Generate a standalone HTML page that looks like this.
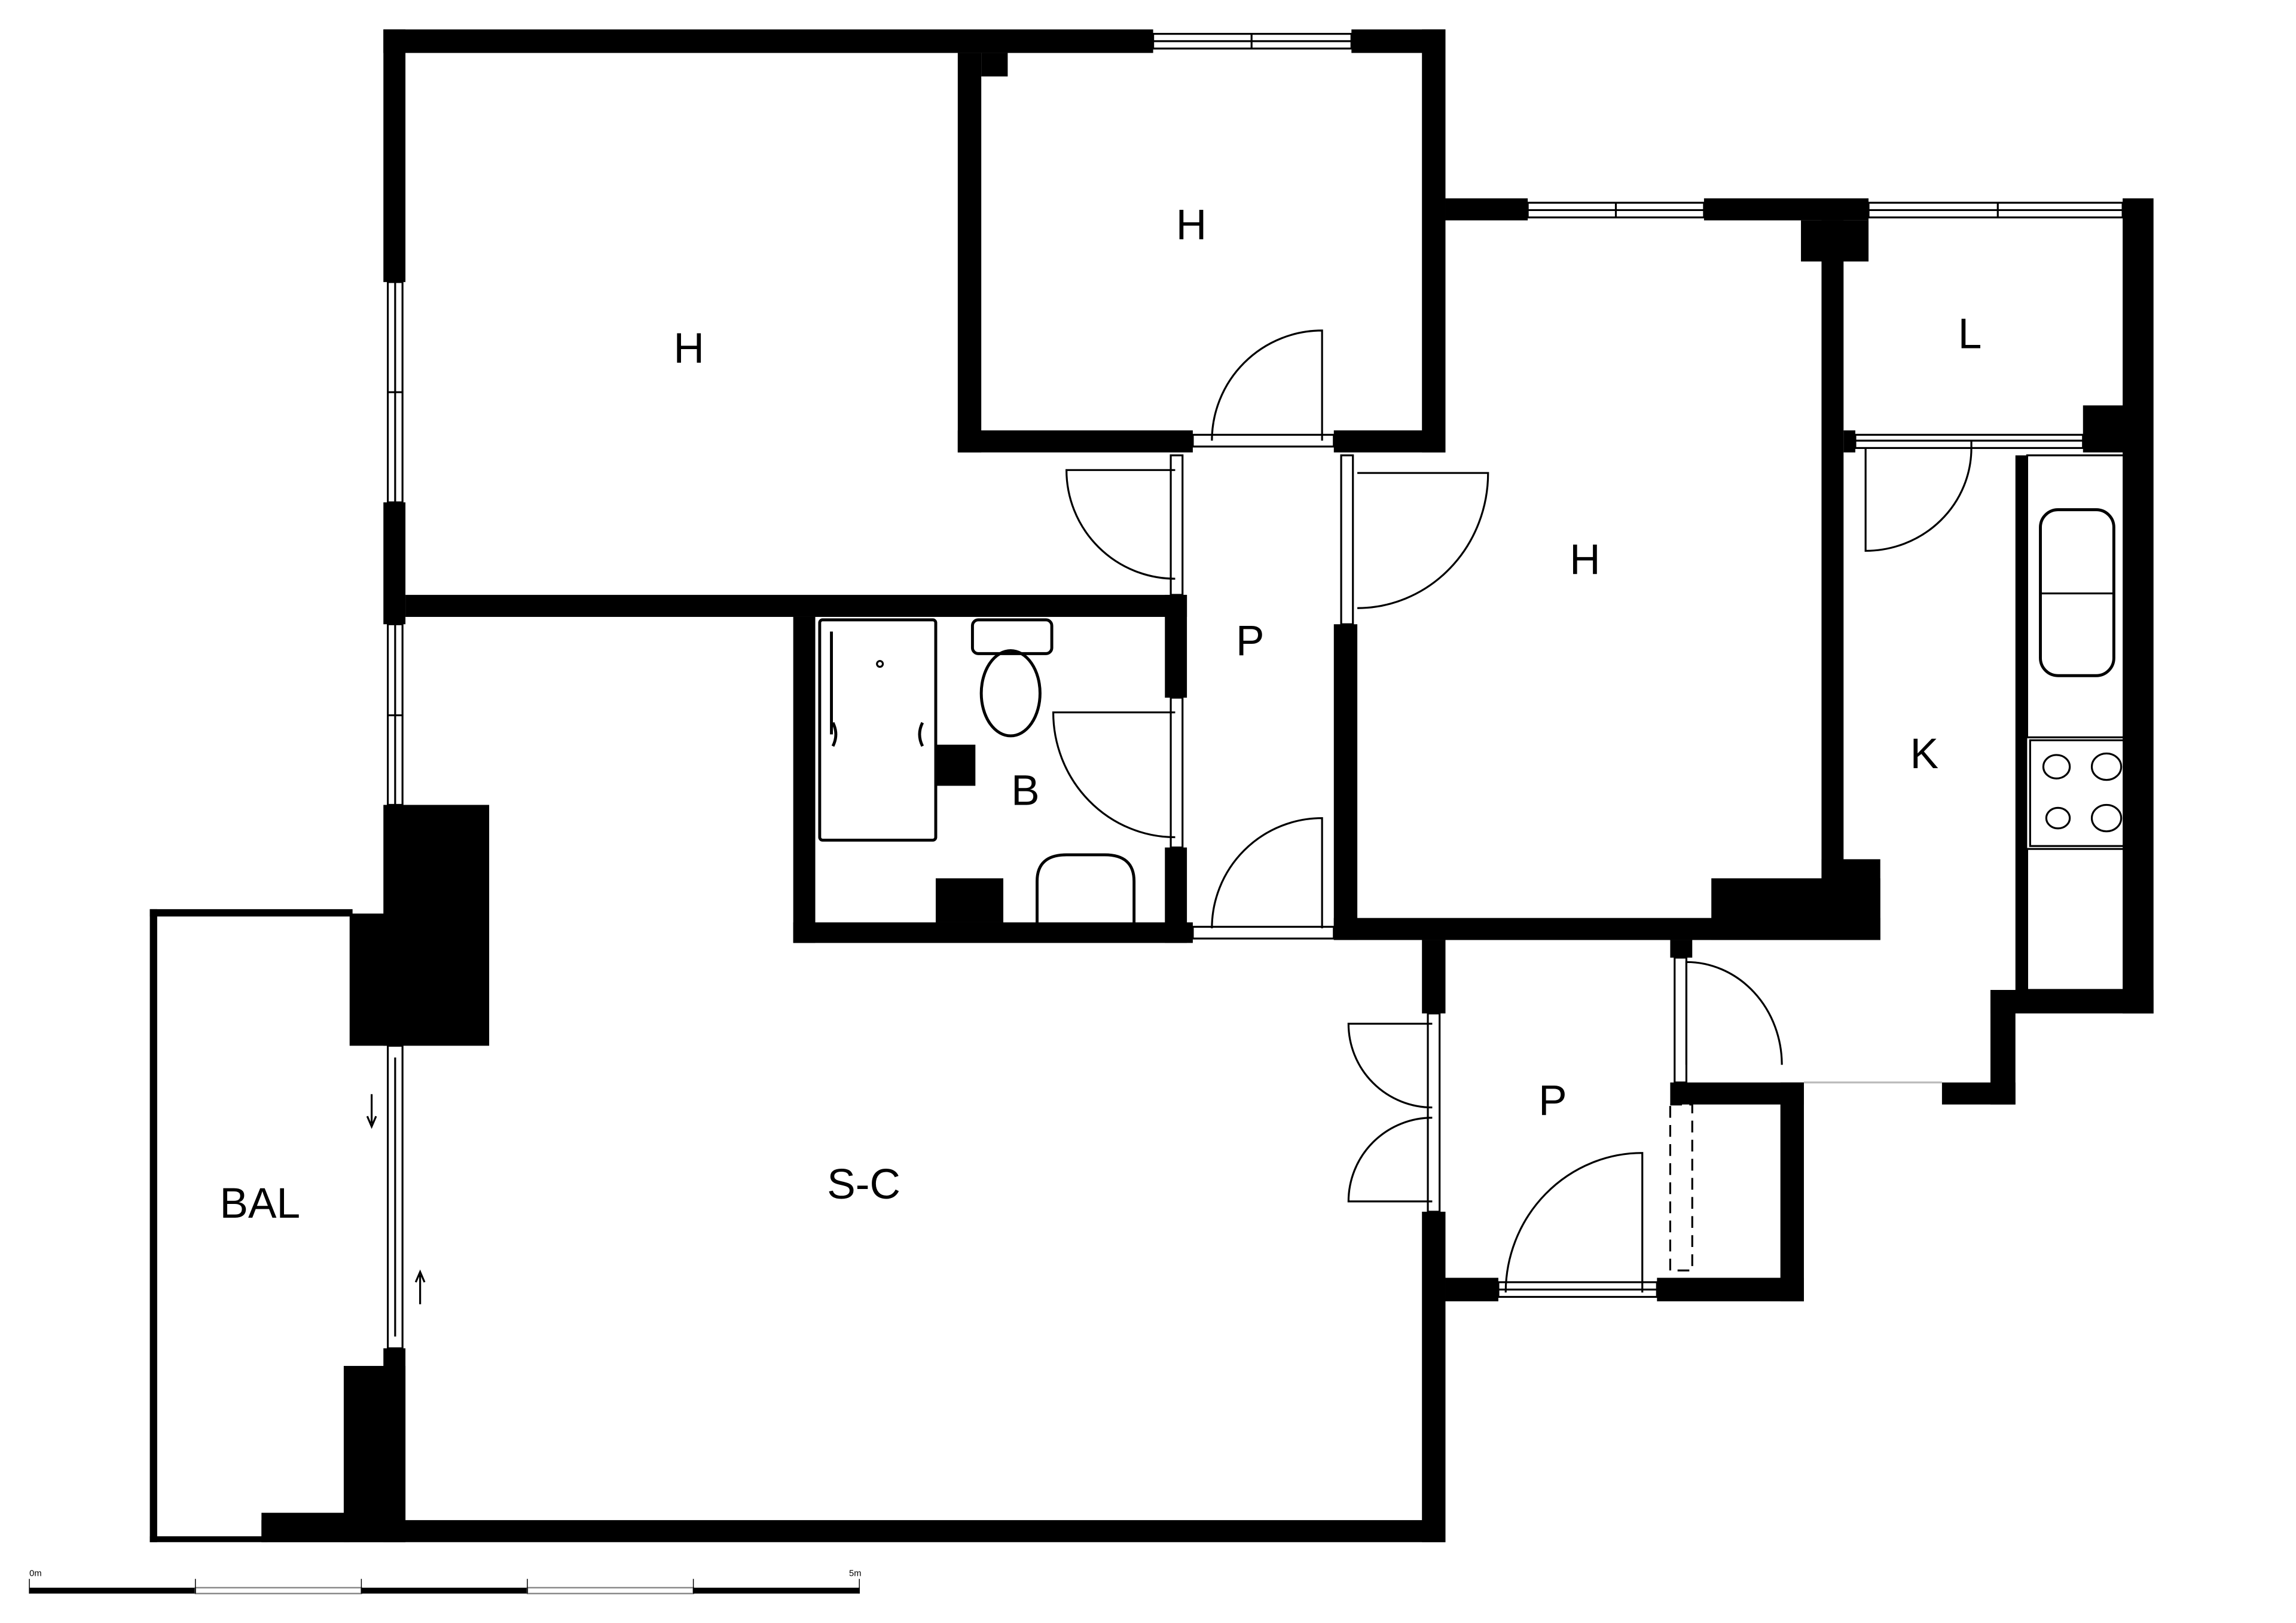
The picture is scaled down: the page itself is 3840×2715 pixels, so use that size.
<!DOCTYPE html>
<html><head><style>html,body{margin:0;padding:0;background:#fff}svg{display:block}</style></head>
<body>
<svg width="3840" height="2715" viewBox="0 0 1563 1105" xmlns="http://www.w3.org/2000/svg">
<rect width="1563" height="1105" fill="#fff"/>
<g fill="#000">
<rect x="261" y="20" width="524" height="16"/>
<rect x="261" y="20" width="15" height="172"/>
<rect x="261" y="342" width="15" height="83"/>
<rect x="276" y="405" width="532" height="15"/>
<rect x="652" y="36" width="16" height="272"/>
<rect x="668" y="36" width="18" height="16"/>
<rect x="920" y="20" width="64" height="16"/>
<rect x="968" y="20" width="16" height="288"/>
<rect x="652" y="293" width="160" height="15"/>
<rect x="908" y="293" width="76" height="15"/>
<rect x="984" y="135" width="56" height="15"/>
<rect x="1160" y="135" width="112" height="15"/>
<rect x="1226" y="150" width="46" height="28"/>
<rect x="1240" y="150" width="15" height="450"/>
<rect x="1165" y="598" width="115" height="42"/>
<rect x="1240" y="585" width="40" height="55"/>
<rect x="1445" y="135" width="21" height="555"/>
<rect x="1255" y="293" width="8" height="15"/>
<rect x="1418" y="276" width="32" height="32"/>
<rect x="1355" y="674" width="111" height="16"/>
<rect x="1355" y="674" width="17" height="78"/>
<rect x="1322" y="737" width="50" height="15"/>
<rect x="1372" y="310" width="8" height="364"/>
<rect x="793" y="405" width="15" height="70"/>
<rect x="793" y="577" width="15" height="65"/>
<rect x="908" y="425" width="16" height="215"/>
<rect x="540" y="628" width="272" height="14"/>
<rect x="908" y="625" width="372" height="15"/>
<rect x="540" y="420" width="15" height="222"/>
<rect x="637" y="598" width="46" height="30"/>
<rect x="637" y="507" width="27" height="28"/>
<rect x="968" y="640" width="16" height="50"/>
<rect x="968" y="825" width="16" height="225"/>
<rect x="984" y="870" width="36" height="16"/>
<rect x="1128" y="870" width="100" height="16"/>
<rect x="1212" y="737" width="16" height="149"/>
<rect x="1137" y="737" width="91" height="15"/>
<rect x="1137" y="640" width="15" height="12"/>
<rect x="178" y="1035" width="806" height="15"/>
<rect x="261" y="548" width="72" height="164"/>
<rect x="238" y="622" width="30" height="90"/>
<rect x="261" y="918" width="15" height="132"/>
<rect x="234" y="930" width="42" height="120"/>
<rect x="178" y="1030" width="60" height="20"/>
<rect x="102" y="619" width="5" height="431"/>
<rect x="102" y="619" width="138" height="5"/>
<rect x="102" y="1046" width="80" height="4"/>
</g>
<g fill="none" stroke="#000" stroke-width="1.3">
<rect x="785" y="23" width="135" height="10"/><line x1="785" y1="28" x2="920" y2="28"/><line x1="852" y1="23" x2="852" y2="33"/>
<rect x="1040" y="138" width="120" height="10"/><line x1="1040" y1="143" x2="1160" y2="143"/><line x1="1100" y1="138" x2="1100" y2="148"/>
<rect x="1272" y="138" width="173" height="10"/><line x1="1272" y1="143" x2="1445" y2="143"/><line x1="1360" y1="138" x2="1360" y2="148"/>
<rect x="264" y="192" width="10" height="150"/><line x1="269" y1="192" x2="269" y2="342"/><line x1="264" y1="267" x2="274" y2="267"/>
<rect x="264" y="425" width="10" height="123"/><line x1="269" y1="425" x2="269" y2="548"/><line x1="264" y1="487" x2="274" y2="487"/>
<rect x="264" y="712" width="10" height="206"/><line x1="269" y1="720" x2="269" y2="910"/>
<rect x="1020" y="873" width="108" height="10"/><line x1="1020" y1="878" x2="1128" y2="878"/>
<rect x="1263" y="296" width="155" height="9"/><line x1="1263" y1="300" x2="1418" y2="300"/>
<rect x="812" y="296" width="96" height="8"/>
<rect x="812" y="631" width="96" height="8"/>
<rect x="797" y="310" width="8" height="95"/>
<rect x="797" y="475" width="8" height="102"/>
<rect x="913" y="310" width="8" height="115"/>
<rect x="972" y="690" width="8" height="135"/>
<rect x="1140" y="652" width="8" height="85"/>
<rect x="1137" y="752" width="15" height="113" stroke-dasharray="8 5"/>
<path d="M900 300 V225 A75 75 0 0 0 825 300"/>
<path d="M800 320 H726 A74 74 0 0 0 800 394"/>
<path d="M924 322 H1013 A89 92 0 0 1 924 414"/>
<path d="M800 485 H717 A83 85 0 0 0 800 570"/>
<path d="M900 632 V557 A75 75 0 0 0 825 632"/>
<path d="M1270 305 V375 A72 70 0 0 0 1342 305 V305"/><line x1="1342" y1="300" x2="1342" y2="305"/>
<path d="M1148 725 V655 A65 70 0 0 1 1213 725"/>
<path d="M975 697 H918 A57 57 0 0 0 975 754"/>
<path d="M975 818 H918 A57 57 0 0 1 975 761"/>
<path d="M1118 880 V785 A93 95 0 0 0 1025 880"/>
<line x1="1228" y1="737" x2="1322" y2="737" stroke="#bbb"/>
<path d="M253 745 V765 M250 760 L253 767 L256 760"/>
<path d="M286 888 V868 M283 873 L286 866 L289 873"/>
<rect x="558" y="422" width="79" height="150" rx="2" stroke-width="2"/>
<rect x="662" y="422" width="54" height="23" rx="4" stroke-width="2"/>
<ellipse cx="688" cy="472" rx="20" ry="29" stroke-width="2"/>
<path d="M706 628 V600 Q706 582 726 582 H752 Q772 582 772 600 V628" stroke-width="2"/>
<line x1="566" y1="430" x2="566" y2="500" stroke-width="2"/>
<circle cx="599" cy="452" r="2"/>
<path d="M567 492 Q571 500 567 508 M628 492 Q624 500 628 508" stroke-width="2"/>
<rect x="1380" y="310" width="70" height="192"/>
<rect x="1389" y="347" width="50" height="113" rx="12" stroke-width="2"/>
<line x1="1389" y1="404" x2="1439" y2="404"/>
<rect x="1382" y="504" width="70" height="72"/>
<ellipse cx="1400" cy="522" rx="9" ry="8"/><ellipse cx="1434" cy="522" rx="10" ry="9"/>
<ellipse cx="1401" cy="557" rx="8" ry="7"/><ellipse cx="1434" cy="557" rx="10" ry="9"/>
<rect x="1380" y="578" width="70" height="96"/>
</g>
<g font-family="Liberation Sans, sans-serif" font-size="29" text-anchor="middle" fill="#000">
<text x="469" y="247">H</text><text x="811" y="163">H</text><text x="1079" y="391">H</text>
<text x="1341" y="237">L</text><text x="851" y="446">P</text><text x="698" y="548">B</text>
<text x="1310" y="523">K</text><text x="1057" y="759">P</text><text x="588" y="816">S-C</text>
<text x="177" y="829">BAL</text>
</g>
<g>
<rect x="20" y="1081" width="113" height="4" fill="#000"/>
<rect x="133" y="1081" width="113" height="4" fill="#fff" stroke="#888" stroke-width="1"/>
<rect x="246" y="1081" width="113" height="4" fill="#000"/>
<rect x="359" y="1081" width="113" height="4" fill="#fff" stroke="#888" stroke-width="1"/>
<rect x="472" y="1081" width="113" height="4" fill="#000"/>
<g stroke="#000" stroke-width="0.6"><line x1="20" y1="1075" x2="20" y2="1085"/><line x1="133" y1="1075" x2="133" y2="1085"/><line x1="246" y1="1075" x2="246" y2="1085"/><line x1="359" y1="1075" x2="359" y2="1085"/><line x1="472" y1="1075" x2="472" y2="1085"/><line x1="585" y1="1075" x2="585" y2="1085"/></g>
<text x="20" y="1073" font-family="Liberation Sans, sans-serif" font-size="6">0m</text>
<text x="578" y="1073" font-family="Liberation Sans, sans-serif" font-size="6">5m</text>
</g>
</svg>
</body></html>
